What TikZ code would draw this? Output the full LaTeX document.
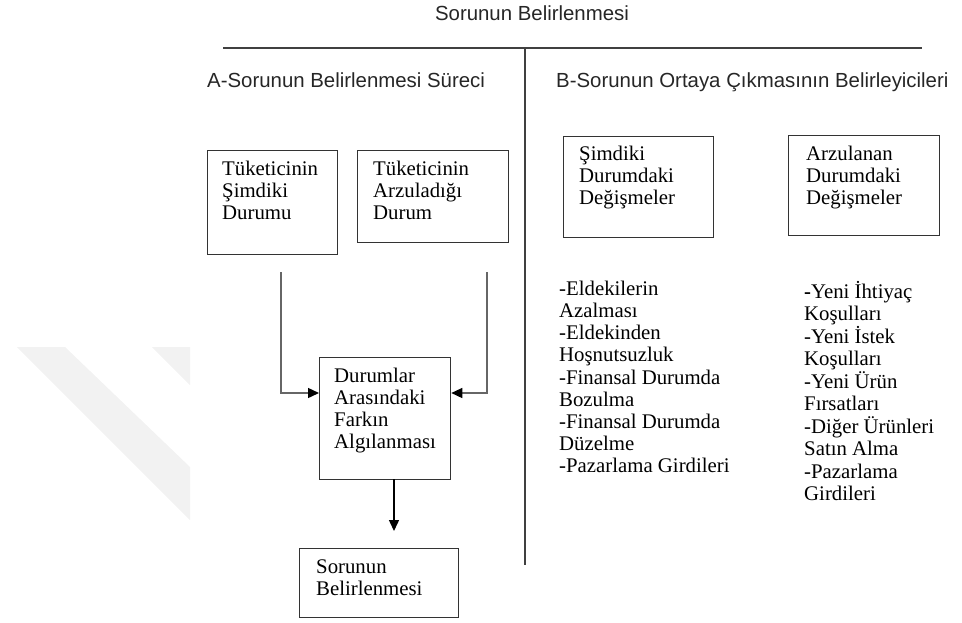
\documentclass[tikz,border=0pt]{standalone}
\usepackage{fontspec}
\setmainfont{Liberation Serif}
\newfontfamily\hsans{Liberation Sans}
\usetikzlibrary{arrows.meta,calc}
\newcommand{\topstrut}{\rule{0pt}{18pt}}
\tikzset{
  box/.style={draw=black!80, line width=1.3pt, anchor=north west, inner sep=0pt},
  txt/.style={anchor=north west, align=left, inner sep=0pt, font=\fontsize{20.8}{22}\selectfont},
  head/.style={inner sep=0pt, font=\hsans\fontsize{20.4}{22}\selectfont, text=black!85},
  conn/.style={draw=black!60, line width=1.4pt, -{Triangle[length=11pt,width=10pt,color=black]}},
  rule/.style={draw=black!75, line width=1.5pt},
  wm/.style={fill=black!5, draw=none}
}
\begin{document}
\begin{tikzpicture}[x=1pt,y=-1pt]
\useasboundingbox (0,0) rectangle (962,622);
% faint watermark bands
\fill[wm] (17,347) -- (65,347) -- (190,467) -- (190,520) -- cycle;
\fill[wm] (152,347) -- (190,347) -- (190,385) -- cycle;
% title and rules
\node[head, anchor=base] (title) at (532,20) {Sorunun Belirlenmesi};
\coordinate (hl) at (223,48);
\coordinate (hr) at (922,48);
\coordinate (vt) at (525,48);
\coordinate (vb) at (525,565);
\draw[rule] (hl) -- (hr);
\draw[rule, line width=1.2pt] (vt) -- (vb);
\node[head, anchor=base west] (ha) at (207,87) {A-Sorunun Belirlenmesi Süreci};
\node[head, anchor=base west] (hb) at (556,87) {B-Sorunun Ortaya Çıkmasının Belirleyicileri};
% left side boxes
\node[box, minimum width=130pt, minimum height=104pt] (b1) at (207,150) {};
\node[txt] (t1) at (222,157) {\topstrut Tüketicinin\\Şimdiki\\Durumu};
\node[box, minimum width=151pt, minimum height=92pt] (b2) at (357,150) {};
\node[txt] (t2) at (373,157) {\topstrut Tüketicinin\\Arzuladığı\\Durum};
\node[box, minimum width=131pt, minimum height=122pt] (b3) at (319,357) {};
\node[txt] (t3) at (334,364) {\topstrut Durumlar\\Arasındaki\\Farkın\\Algılanması};
\node[box, minimum width=159pt, minimum height=69pt] (b4) at (299,548) {};
\node[txt] (t4) at (316,555) {\topstrut Sorunun\\Belirlenmesi};
% connectors
\coordinate (c1) at (281,272);
\coordinate (c2) at (487,272);
\coordinate (c3) at (394,479);
\coordinate (c4) at (394,531);
\draw[conn] (c1) |- (b3.west |- 0,393);
\draw[conn] (c2) |- (b3.east |- 0,393);
\draw[conn, draw=black, line width=1.4pt] (c3) -- (c4);
% right side boxes
\node[box, minimum width=150pt, minimum height=101pt] (b5) at (563,136) {};
\node[txt] (t5) at (579,142) {\topstrut Şimdiki\\Durumdaki\\Değişmeler};
\node[box, minimum width=151pt, minimum height=100pt] (b6) at (788,135) {};
\node[txt] (t6) at (806,142) {\topstrut Arzulanan\\Durumdaki\\Değişmeler};
% lists
\node[txt, font=\fontsize{20.8}{22.2}\selectfont] (l1) at (559,277) {\topstrut -Eldekilerin\\Azalması\\-Eldekinden\\Hoşnutsuzluk\\-Finansal Durumda\\Bozulma\\-Finansal Durumda\\Düzelme\\-Pazarlama Girdileri};
\node[txt, font=\fontsize{20.8}{22.5}\selectfont] (l2) at (804,280) {\topstrut\textbf{-}Yeni İhtiyaç\\Koşulları\\-Yeni İstek\\Koşulları\\-Yeni Ürün\\Fırsatları\\-Diğer Ürünleri\\Satın Alma\\-Pazarlama\\Girdileri};
\end{tikzpicture}
\end{document}
